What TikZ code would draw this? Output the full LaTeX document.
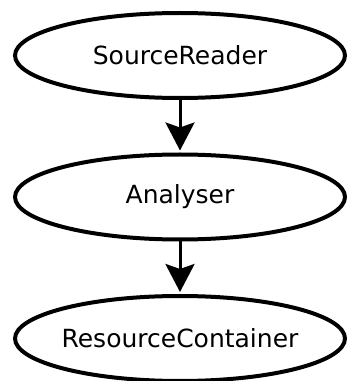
\documentclass[tikz,border=0pt]{standalone}
\usepackage{fontspec}
\setmainfont{DejaVu Sans}
\usetikzlibrary{shapes.geometric,arrows.meta}
\begin{document}
\begin{tikzpicture}[x=1pt, y=1pt,
    stage/.style={draw, ellipse, line width=4, inner xsep=-12pt,
      minimum width=330, minimum height=85,
      font=\fontsize{25}{29}\selectfont},
    flow/.style={line width=3, shorten >=2pt,
      -{Stealth[length=28pt, width=29pt, inset=5pt]}}]
    \useasboundingbox (0,0) rectangle (347,381);
    \node[stage] (reader) at (180,325.5) {SourceReader};
    \node[stage] (analyser) at (180,184) {Analyser};
    \node[stage] (container) at (180,42.5) {ResourceContainer};
    \draw[flow] (reader) -- (analyser);
    \draw[flow] (analyser) -- (container);
\end{tikzpicture}
\end{document}
